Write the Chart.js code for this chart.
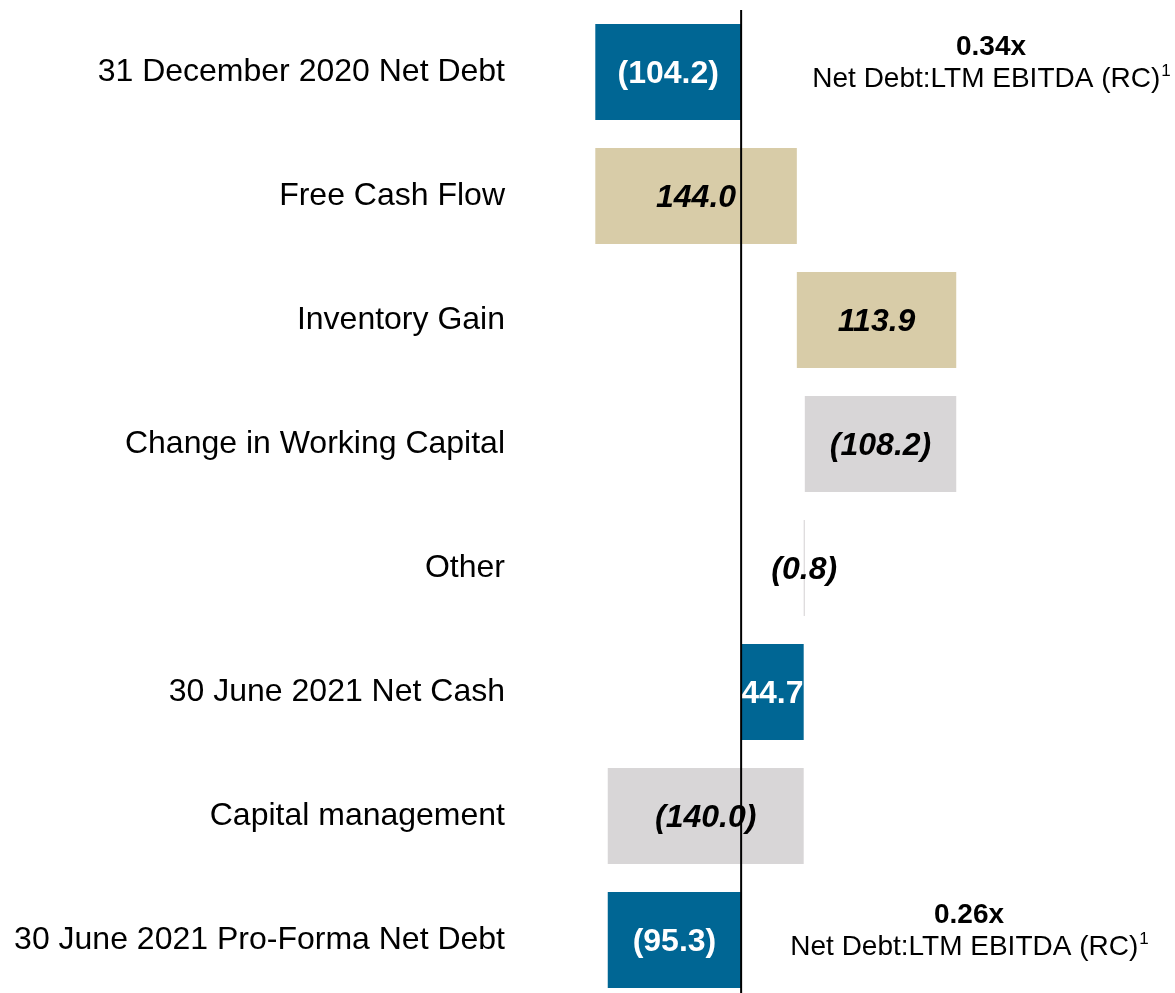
<!DOCTYPE html>
<html>
<head>
<meta charset="utf-8">
<script src="https://cdn.jsdelivr.net/npm/chart.js@4.4.1/dist/chart.umd.min.js"></script>
<style>
  html, body { margin: 0; padding: 0; background: #fff; overflow: hidden; }
  canvas { display: block; }
</style>
</head>
<body>
<canvas id="bridge" width="1175" height="1002"></canvas>
<script>
// Net debt bridge, values in the company's reporting currency (millions)
var categories = [
  '31 December 2020 Net Debt',
  'Free Cash Flow',
  'Inventory Gain',
  'Change in Working Capital',
  'Other',
  '30 June 2021 Net Cash',
  'Capital management',
  '30 June 2021 Pro-Forma Net Debt'
];
var movements = [-104.2, 144.0, 113.9, -108.2, -0.8, 44.7, -140.0, -95.3];
var isTotal = [true, false, false, false, false, true, false, true];

var ratioRows = [0, 7];
var ratioValues = ['0.34x', '0.26x'];
var ratioCaption = 'Net Debt:LTM EBITDA (RC)';
var ratioNote = '1';

var FONT = 'Arial, "Liberation Sans", Helvetica, sans-serif';
var BLUE = '#006694';
var TAN = '#D8CCA8';
var GREY = '#D8D6D7';

function formatValue(v) {
  var s = Math.abs(v).toFixed(1);
  return v < 0 ? '(' + s + ')' : s;
}

// totals start from zero, movements float from the running balance
function buildRanges(moves, totals) {
  var running = 0;
  return moves.map(function (v, i) {
    if (totals[i]) {
      running = v;
      return [0, v];
    }
    var start = running;
    running = Math.round((running + v) * 10) / 10;
    return [start, running];
  });
}

function barColours(moves, totals) {
  return moves.map(function (v, i) {
    if (totals[i]) return BLUE;
    return v >= 0 ? TAN : GREY;
  });
}

var bridgeLabels = {
  id: 'bridgeLabels',
  afterDatasetsDraw: function (chart) {
    var ctx = chart.ctx;
    var area = chart.chartArea;
    var meta = chart.getDatasetMeta(0);
    ctx.save();

    // values inside the bars
    ctx.textAlign = 'center';
    ctx.textBaseline = 'middle';
    meta.data.forEach(function (bar, i) {
      var total = isTotal[i];
      ctx.font = (total ? '' : 'italic ') + 'bold 32px ' + FONT;
      ctx.fillStyle = total ? '#fff' : '#000';
      ctx.fillText(formatValue(movements[i]), (bar.x + bar.base) / 2, bar.y + 2);
    });

    // zero line on top of everything
    var x0 = chart.scales.x.getPixelForValue(0);
    ctx.strokeStyle = '#000';
    ctx.lineWidth = 2;
    ctx.beginPath();
    ctx.moveTo(x0, area.top);
    ctx.lineTo(x0, area.bottom);
    ctx.stroke();

    // leverage notes next to the opening and closing totals
    var centres = [area.right - 184, area.right - 206];
    ratioRows.forEach(function (row, k) {
      var y = meta.data[row].y;
      ctx.textAlign = 'center';
      ctx.font = 'bold 28px ' + FONT;
      ctx.fillStyle = '#000';
      ctx.fillText(ratioValues[k], centres[k], y - 25);

      ctx.font = '28px ' + FONT;
      var wCap = ctx.measureText(ratioCaption).width;
      ctx.font = '17px ' + FONT;
      var wSup = ctx.measureText(ratioNote).width;
      var left = centres[k] - (wCap + wSup) / 2;
      ctx.textAlign = 'left';
      ctx.font = '28px ' + FONT;
      ctx.fillText(ratioCaption, left, y + 7);
      ctx.font = '17px ' + FONT;
      ctx.fillText(ratioNote, left + wCap + 1, y - 1);
    });

    ctx.restore();
  }
};

new Chart(document.getElementById('bridge'), {
  type: 'bar',
  data: {
    labels: categories,
    datasets: [{
      data: buildRanges(movements, isTotal),
      backgroundColor: barColours(movements, isTotal),
      borderWidth: 0,
      barPercentage: 0.774,
      categoryPercentage: 1
    }]
  },
  options: {
    indexAxis: 'y',
    responsive: false,
    animation: false,
    layout: { padding: { top: 10, left: 0, right: 0, bottom: 0 } },
    scales: {
      x: { display: false, min: -158, max: 310 },
      y: {
        grid: { display: false, drawTicks: false },
        border: { display: false },
        ticks: { color: '#000', padding: 15, font: { family: FONT, size: 32 } },
        afterFit: function (scale) {
          scale.width = 520;
          scale.paddingTop = 0;
          scale.paddingBottom = 0;
        }
      }
    },
    plugins: {
      legend: { display: false },
      tooltip: { enabled: false }
    }
  },
  plugins: [bridgeLabels]
});
</script>
</body>
</html>
